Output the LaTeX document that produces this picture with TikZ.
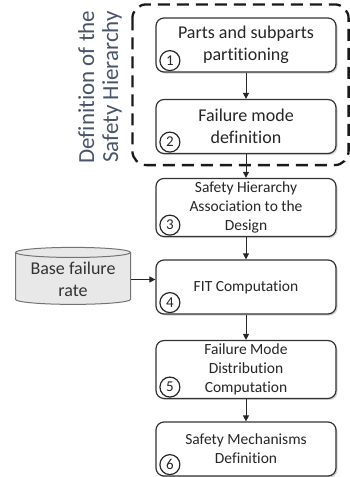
\documentclass[tikz,border=0pt]{standalone}
\usepackage{fontspec}
\setmainfont{Carlito}[Ligatures=NoCommon]
\usepackage{tikz}
\usetikzlibrary{shapes,shapes.geometric,arrows.meta,positioning,calc,shadows}
\definecolor{slate}{RGB}{72,84,104}

\begin{document}
\begin{tikzpicture}[
    x=1pt, y=1pt,
    stepbox/.style={rectangle, draw=black!80, fill=white, line width=1.2pt, rounded corners=8pt,
        minimum width=180pt, minimum height=54pt, align=center, text=black!85,
        drop shadow={opacity=0.35, shadow xshift=1.5pt, shadow yshift=-1.5pt}},
    bigtext/.style={font=\fontsize{18}{22}\selectfont},
    smalltext/.style={font=\fontsize{15.5}{19}\selectfont},
    numcirc/.style={circle, draw=black!85, line width=1.2pt, fill=white, minimum size=20pt, inner sep=0pt,
        font=\fontsize{15}{15}\selectfont, text=black!85},
    database/.style={cylinder, shape border rotate=90, aspect=0.11, draw=black!55, fill=gray!18, line width=1pt,
        minimum width=115pt, minimum height=57pt, align=center, text=black!80, font=\fontsize{18}{22}\selectfont},
    arrow/.style={-{Triangle[length=6pt, width=6pt]}, line width=1pt, black!85},
    groupbox/.style={draw=black!90, line width=2.3pt, dash pattern=on 12pt off 7pt, rounded corners=14pt}
]
    \useasboundingbox (0,0) rectangle (350,-477);

    % Steps
    \node[stepbox, bigtext]   (b1) at (246,-45)    {Parts and subparts\\partitioning};
    \node[stepbox, bigtext]   (b2) at (246,-126.5) {Failure mode\\definition};
    \node[stepbox, smalltext] (b3) at (246,-207.5) {Safety Hierarchy\\Association to the\\Design};
    \node[stepbox, smalltext] (b4) at (246,-287)   {FIT Computation};
    \node[stepbox, smalltext] (b5) at (246,-369.5) {Failure Mode\\Distribution\\Computation};
    \node[stepbox, smalltext] (b6) at (246,-449)   {Safety Mechanisms\\Definition};

    % Step numbers
    \foreach \i in {1,...,6}
        \node[numcirc] (n\i) at ($(b\i.south west)+(14.5,12)$) {\i};

    % Input data
    \node[database] (rate) at (73,-279.5) {Base failure\\rate};

    % Group around steps 1 and 2
    \coordinate (gtl) at ($(b1.north west)+(-23,13)$);
    \coordinate (gbr) at ($(b2.south east)+(12,-11)$);
    \draw[groupbox] (gtl) rectangle (gbr);
    \node[rotate=90, align=center, text=slate, font=\fontsize{23}{24}\selectfont] (glabel)
        at (100,-87) {Definition of the\\Safety Hierarchy};

    % Arrows
    \draw[arrow] (b1) -- (b2);
    \draw[arrow] (b2) -- (b3);
    \draw[arrow] (b3) -- (b4);
    \draw[arrow] (b4) -- (b5);
    \draw[arrow] (b5) -- (b6);
    \draw[arrow] (rate.east) -- (rate.east -| b4.west);
\end{tikzpicture}
\end{document}
